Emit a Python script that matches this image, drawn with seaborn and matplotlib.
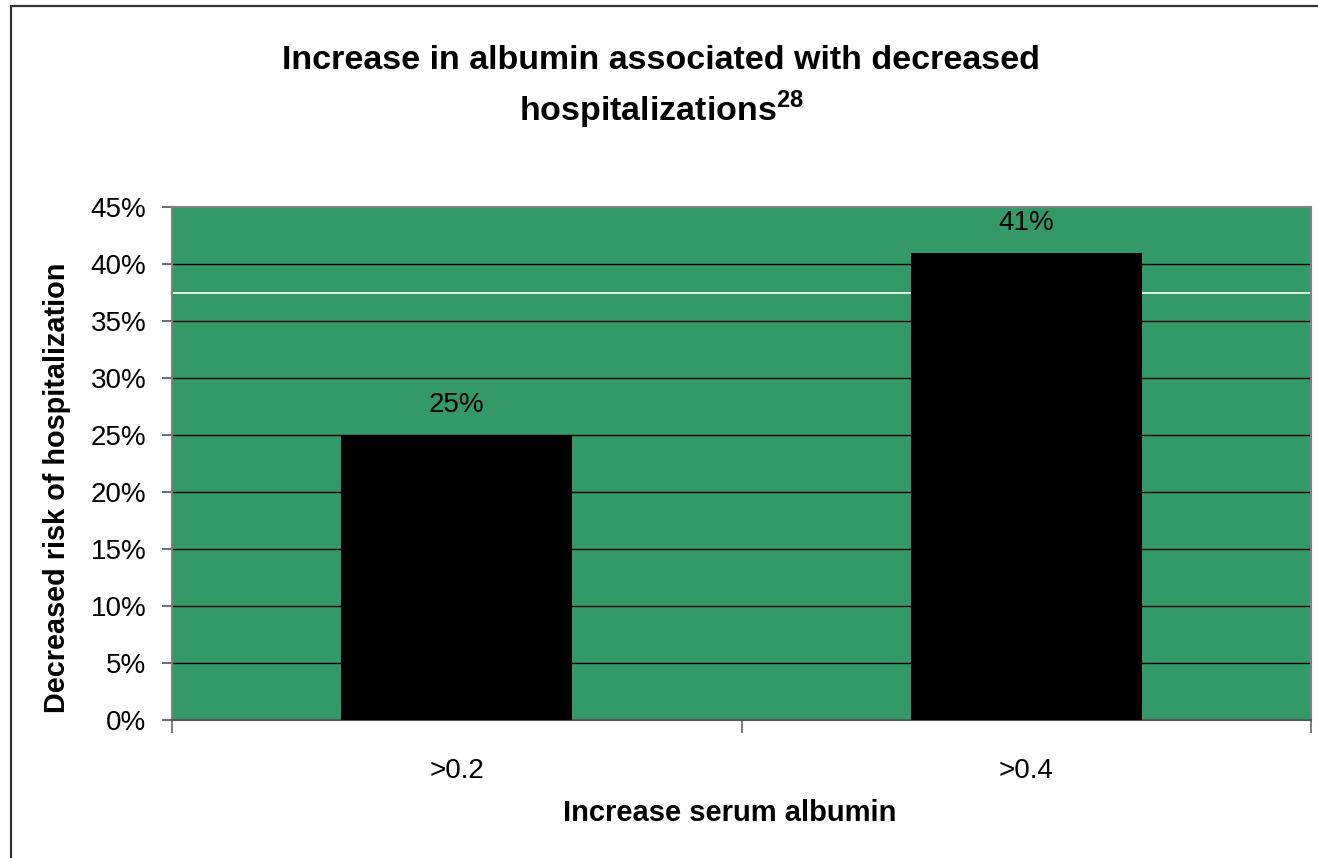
import matplotlib
matplotlib.use("Agg")
import matplotlib.pyplot as plt
from matplotlib import font_manager
from matplotlib.patches import Rectangle
from matplotlib.ticker import FixedLocator, PercentFormatter
import seaborn as sns
import pandas as pd

# Data
categories = [">0.2", ">0.4"]
risk_reduction = [0.25, 0.41]
value_labels = ["25%", "41%"]

title_line1 = "Increase in albumin associated with decreased"
title_line2 = "hospitalizations"
title_ref = "28"
x_label = "Increase serum albumin"
y_label = "Decreased risk of hospitalization"

df = pd.DataFrame({"category": categories, "value": risk_reduction})

sns.set_theme(style="white")
installed = {f.name for f in font_manager.fontManager.ttflist}
narrow = "Liberation Sans Narrow" if "Liberation Sans Narrow" in installed else "Liberation Sans"
title_size = 28 if narrow == "Liberation Sans Narrow" else 24.5
plt.rcParams["font.family"] = ["Liberation Sans", "DejaVu Sans"]
plt.rcParams["text.color"] = "black"
plt.rcParams["mathtext.fontset"] = "custom"
plt.rcParams["mathtext.rm"] = narrow
plt.rcParams["mathtext.bf"] = f"{narrow}:bold"

W, H = 1318, 858
fig = plt.figure(figsize=(W / 100, H / 100), dpi=100)
fig.patch.set_facecolor("white")

# Chart frame
fig.patches.append(Rectangle((11 / W, -0.05), 1.2, 1 - 6 / H + 0.05,
                             transform=fig.transFigure, fill=False,
                             edgecolor="#333333", linewidth=1.6))

ax = fig.add_axes([172 / W, 1 - 720 / H, (1311 - 172) / W, (720 - 207) / H])
ax.set_facecolor("#339966")

sns.barplot(data=df, x="category", y="value", color="black", width=0.405,
            saturation=1, edgecolor="none", ax=ax, zorder=3)

ax.set_xlim(-0.5, 1.5)
ax.set_ylim(0, 0.45)
ax.yaxis.set_major_locator(FixedLocator([i * 0.05 for i in range(10)]))
ax.yaxis.set_major_formatter(PercentFormatter(1.0, decimals=0))

# Gridlines behind bars
for v in [i * 0.05 for i in range(1, 9)]:
    ax.axhline(v, color="black", linewidth=1.0, zorder=1)
ax.axhline(0.375, color="white", linewidth=1.2, zorder=1)

for spine in ax.spines.values():
    spine.set_visible(True)
    spine.set_color("#808080")
    spine.set_linewidth(1.5)
ax.spines["bottom"].set_color("#555555")

ax.tick_params(axis="y", which="major", left=True, length=7.5, width=1.2,
               color="#555555", labelsize=20, pad=11, labelcolor="black")
ax.tick_params(axis="x", which="major", bottom=False, labelsize=20, pad=21,
               labelcolor="black")
ax.xaxis.set_minor_locator(FixedLocator([-0.5, 0.5, 1.5]))
ax.tick_params(axis="x", which="minor", bottom=True, length=9, width=1.2,
               color="#666666")

for i, (v, lab) in enumerate(zip(risk_reduction, value_labels)):
    ax.annotate(lab, (i, v), xytext=(0, 21.5), textcoords="offset points",
                ha="center", va="center", fontsize=20, color="black")

ax.set_xlabel(x_label, fontsize=21, fontweight="bold", color="black")
ax.xaxis.set_label_coords((730 - 172) / (1311 - 172), -(813 - 720) / (720 - 207))
ax.xaxis.label.set_va("center")
ax.set_ylabel(y_label, fontsize=20.8, fontweight="bold", color="black")
ax.yaxis.set_label_coords(-(172 - 57) / (1311 - 172), (720 - 488) / (720 - 207))
ax.yaxis.label.set_va("center")

fig.text(661 / W, 1 - 69 / H, title_line1, ha="center", va="baseline",
         fontsize=title_size, fontweight="bold", family=narrow, color="black")
fig.text(661 / W, 1 - 121 / H, title_line2 + r"$^{\mathbf{" + title_ref + "}}$",
         ha="center", va="baseline", fontsize=title_size, fontweight="bold",
         family=narrow, color="black")

fig.savefig("out.png", dpi=100)
